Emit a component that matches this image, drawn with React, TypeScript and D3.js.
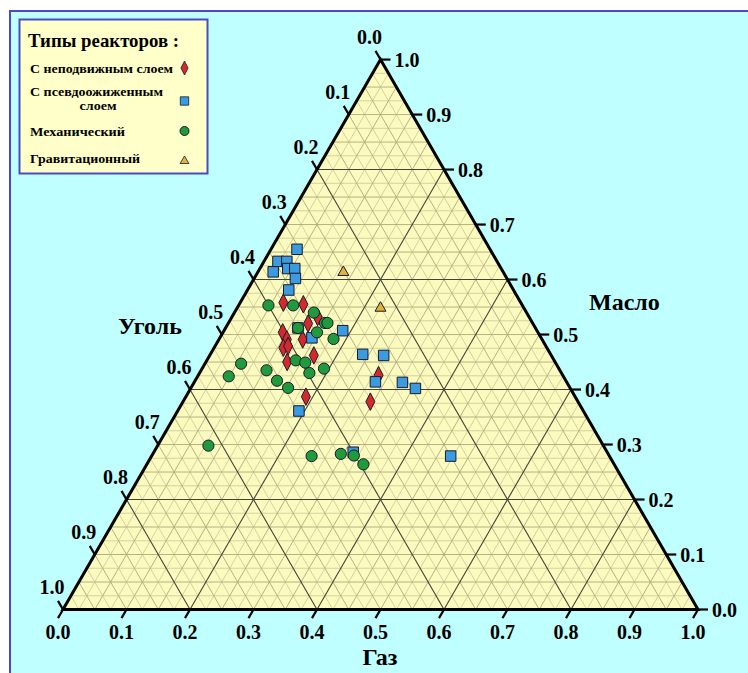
import React from "react";
import * as d3 from "d3";

// Composition rows: [Газ, Масло, Уголь] (fractions of product yield)
type Row = [number, number, number];

const fixedBed: Row[] = [
  [0.068, 0.558, 0.374],
  [0.101, 0.555, 0.344],
  [0.135, 0.532, 0.333],
  [0.126, 0.520, 0.354],
  [0.094, 0.504, 0.402],
  [0.107, 0.491, 0.402],
  [0.132, 0.491, 0.377],
  [0.109, 0.476, 0.415],
  [0.115, 0.479, 0.406],
  [0.164, 0.462, 0.374],
  [0.128, 0.450, 0.422],
  [0.284, 0.426, 0.290],
  [0.189, 0.387, 0.424],
  [0.295, 0.378, 0.327],
];

const fluidizedBed: Row[] = [
  [0.041, 0.655, 0.304],
  [0.022, 0.633, 0.345],
  [0.036, 0.633, 0.331],
  [0.024, 0.614, 0.362],
  [0.044, 0.620, 0.336],
  [0.055, 0.620, 0.325],
  [0.065, 0.602, 0.333],
  [0.065, 0.581, 0.354],
  [0.114, 0.512, 0.374],
  [0.187, 0.507, 0.306],
  [0.145, 0.494, 0.361],
  [0.240, 0.464, 0.296],
  [0.274, 0.462, 0.264],
  [0.285, 0.414, 0.301],
  [0.328, 0.413, 0.259],
  [0.354, 0.402, 0.244],
  [0.191, 0.361, 0.448],
  [0.314, 0.286, 0.400],
  [0.471, 0.279, 0.250],
];

const mechanical: Row[] = [
  [0.047, 0.553, 0.400],
  [0.086, 0.553, 0.361],
  [0.125, 0.540, 0.335],
  [0.152, 0.521, 0.327],
  [0.156, 0.521, 0.323],
  [0.114, 0.512, 0.374],
  [0.148, 0.504, 0.348],
  [0.180, 0.492, 0.328],
  [0.057, 0.447, 0.496],
  [0.140, 0.453, 0.407],
  [0.157, 0.449, 0.394],
  [0.192, 0.438, 0.370],
  [0.049, 0.424, 0.527],
  [0.103, 0.435, 0.462],
  [0.173, 0.430, 0.397],
  [0.129, 0.416, 0.455],
  [0.153, 0.403, 0.444],
  [0.080, 0.298, 0.622],
  [0.252, 0.279, 0.469],
  [0.296, 0.283, 0.421],
  [0.318, 0.280, 0.402],
  [0.341, 0.264, 0.395],
];

const gravity: Row[] = [
  [0.134, 0.615, 0.251],
  [0.225, 0.550, 0.225],
];

const axisTicks = d3.range(0, 11).map((i) => i / 10);
const tickLabels = ["0.0", "0.1", "0.2", "0.3", "0.4", "0.5", "0.6", "0.7", "0.8", "0.9", "1.0"];
const axisTitles = { gas: "Газ", oil: "Масло", coal: "Уголь" };

const legendTitle = "Типы реакторов :";
const legendLabels: string[][] = [
  ["С неподвижным слоем"],
  ["С псевдоожиженным", "слоем"],
  ["Механический"],
  ["Гравитационный"],
];

// ---- layout ----
const WIDTH = 748;
const HEIGHT = 673;
const X0 = 63;
const SIDE = 635;
const Y0 = 609.5;
const TRI_H = (SIDE * Math.sqrt(3)) / 2;

const xScale = d3.scaleLinear().domain([0, 1]).range([X0, X0 + SIDE]);
const yScale = d3.scaleLinear().domain([0, 1]).range([Y0, Y0 - TRI_H]);

// gas runs along the base, oil is the height
const project = (gas: number, oil: number): [number, number] => [
  xScale(gas + oil / 2),
  yScale(oil),
];

const FONT = "'Liberation Serif', 'Times New Roman', serif";

const COLORS = {
  frame: "#4a4ac8",
  background: "#bfffff",
  plot: "#fbfabf",
  legend: "#ffffca",
  gridFine: "#d3cd98",
  gridMid: "#b0a97a",
  gridMajor: "#45443a",
  diamond: "#d42a2f",
  square: "#3a9be0",
  circle: "#1f9a3c",
  triangle: "#e2b23a",
  outline: "#1a1a2a",
};

const diamondPath = (w: number, h: number) => {
  const p = d3.path();
  p.moveTo(0, -h / 2);
  p.lineTo(w / 2, 0);
  p.lineTo(0, h / 2);
  p.lineTo(-w / 2, 0);
  p.closePath();
  return p.toString();
};
const squarePath = d3.symbol(d3.symbolSquare, 110)() as string;
const trianglePath = d3.symbol(d3.symbolTriangle, 52)() as string;

type MarkerKind = "diamond" | "square" | "circle" | "triangle";

const Marker = ({ kind, x, y, scale = 1 }: { kind: MarkerKind; x: number; y: number; scale?: number }) => {
  const common = { stroke: COLORS.outline, strokeWidth: 1 };
  const t = `translate(${x},${y}) scale(${scale})`;
  if (kind === "diamond")
    return <path d={diamondPath(9, 17.5)} transform={t} fill={COLORS.diamond} {...common} />;
  if (kind === "square")
    return <path d={squarePath} transform={t} fill={COLORS.square} {...common} />;
  if (kind === "circle")
    return <circle cx={x} cy={y} r={5.6 * scale} fill={COLORS.circle} {...common} />;
  return <path d={trianglePath} transform={`translate(${x},${y + 1}) scale(${scale})`} fill={COLORS.triangle} {...common} />;
};

const series: { rows: Row[]; kind: MarkerKind }[] = [
  { rows: fixedBed, kind: "diamond" },
  { rows: fluidizedBed, kind: "square" },
  { rows: mechanical, kind: "circle" },
  { rows: gravity, kind: "triangle" },
];
const legendKinds: MarkerKind[] = ["diamond", "square", "circle", "triangle"];

type Seg = { key: string; a: [number, number]; b: [number, number]; level: number };

function gridSegments(): Seg[] {
  const segs: Seg[] = [];
  for (let i = 1; i < 40; i++) {
    const v = i / 40;
    const level = i % 8 === 0 ? 2 : i % 2 === 0 ? 1 : 0;
    segs.push({ key: `g${i}`, a: project(v, 0), b: project(v, 1 - v), level }); // constant gas
    segs.push({ key: `o${i}`, a: project(0, v), b: project(1 - v, v), level }); // constant oil
    segs.push({ key: `c${i}`, a: project(1 - v, 0), b: project(0, 1 - v), level }); // constant coal
  }
  return segs.sort((s, t) => s.level - t.level);
}

const gridStroke = [COLORS.gridFine, COLORS.gridMid, COLORS.gridMajor];
const gridWidth = [0.9, 0.9, 1.1];

const TICK = 10;
const DIRS = {
  gas: [-0.5, Math.sqrt(3) / 2],
  oil: [1, 0],
  coal: [-0.5, -Math.sqrt(3) / 2],
};

export default function App() {
  const triangle = [project(0, 0), project(1, 0), project(0, 1)];
  const triPath = d3.line()(triangle) + "Z";

  const ticks: JSX.Element[] = [];
  const labels: JSX.Element[] = [];
  axisTicks.forEach((v, i) => {
    // Газ along the base
    const g = project(v, 0);
    const ge = [g[0] + DIRS.gas[0] * TICK, g[1] + DIRS.gas[1] * TICK];
    ticks.push(<line key={`tg${i}`} x1={g[0]} y1={g[1]} x2={ge[0]} y2={ge[1]} />);
    labels.push(
      <text key={`lg${i}`} x={ge[0]} y={ge[1] + 21} textAnchor="middle">
        {tickLabels[i]}
      </text>
    );
    // Масло on the right side
    const o = project(1 - v, v);
    const oe = [o[0] + DIRS.oil[0] * TICK, o[1]];
    ticks.push(<line key={`to${i}`} x1={o[0]} y1={o[1]} x2={oe[0]} y2={oe[1]} />);
    labels.push(
      <text key={`lo${i}`} x={oe[0] + 4} y={oe[1] + 7} textAnchor="start">
        {tickLabels[i]}
      </text>
    );
    // Уголь on the left side
    const c = project(0, 1 - v);
    const ce = [c[0] + DIRS.coal[0] * TICK, c[1] + DIRS.coal[1] * TICK];
    ticks.push(<line key={`tc${i}`} x1={c[0]} y1={c[1]} x2={ce[0]} y2={ce[1]} />);
    labels.push(
      <text key={`lc${i}`} x={ce[0] - 6} y={ce[1] - 7} textAnchor="middle">
        {tickLabels[i]}
      </text>
    );
  });

  const legendRowsY = [68, 101, 131, 160];
  const legendTextY = [73, 95.5, 136, 163];
  const legendWidths = [[143], [133, 37], [95], [110]];

  return (
    <div style={{ position: "absolute", left: 0, top: 0, width: WIDTH, height: HEIGHT }}>
      <svg width={WIDTH} height={HEIGHT} style={{ display: "block" }}>
        <rect x={0} y={0} width={WIDTH} height={HEIGHT} fill="#ffffff" />
        <rect
          x={10}
          y={11}
          width={WIDTH + 20}
          height={HEIGHT + 20}
          fill={COLORS.background}
          stroke={COLORS.frame}
          strokeWidth={2}
        />

        <path d={triPath} fill={COLORS.plot} />
        <g>
          {gridSegments().map((s) => (
            <line
              key={s.key}
              x1={s.a[0]}
              y1={s.a[1]}
              x2={s.b[0]}
              y2={s.b[1]}
              stroke={gridStroke[s.level]}
              strokeWidth={gridWidth[s.level]}
            />
          ))}
        </g>

        {series.map((s) => (
          <g key={s.kind}>
            {s.rows.map(([gas, oil], j) => {
              const [x, y] = project(gas, oil);
              return <Marker key={j} kind={s.kind} x={x} y={y} />;
            })}
          </g>
        ))}

        <path d={triPath} fill="none" stroke="#000" strokeWidth={3} strokeLinejoin="miter" />
        <g stroke="#000" strokeWidth={2.2}>{ticks}</g>
        <g fontFamily={FONT} fontWeight="bold" fontSize={20} fill="#000">
          {labels}
        </g>

        <g fontFamily={FONT} fontWeight="bold" fontSize={24} fill="#000">
          <text x={380} y={665} textAnchor="middle">{axisTitles.gas}</text>
          <text x={589} y={310} textAnchor="start">{axisTitles.oil}</text>
          <text x={150} y={334} textAnchor="middle">{axisTitles.coal}</text>
        </g>

        {/* legend */}
        <rect x={19.5} y={19.5} width={188} height={154} fill={COLORS.legend} stroke={COLORS.frame} strokeWidth={2} />
        <g fontFamily={FONT} fontWeight="bold" fill="#000">
          <text x={28} y={47} fontSize={19} textLength={151} lengthAdjust="spacingAndGlyphs">
            {legendTitle}
          </text>
          {legendLabels.map((lines, i) =>
            lines.length === 1 ? (
              <text
                key={i}
                x={30}
                y={legendTextY[i]}
                fontSize={13}
                textLength={legendWidths[i][0]}
                lengthAdjust="spacingAndGlyphs"
              >
                {lines[0]}
              </text>
            ) : (
              <g key={i} fontSize={12}>
                <text x={30} y={legendTextY[i]} textLength={legendWidths[i][0]} lengthAdjust="spacingAndGlyphs">
                  {lines[0]}
                </text>
                <text
                  x={98}
                  y={legendTextY[i] + 14}
                  textAnchor="middle"
                  textLength={legendWidths[i][1]}
                  lengthAdjust="spacingAndGlyphs"
                >
                  {lines[1]}
                </text>
              </g>
            )
          )}
        </g>
        {legendKinds.map((k, i) => (
          <Marker key={k} kind={k} x={184.5} y={legendRowsY[i]} scale={0.8} />
        ))}
      </svg>
    </div>
  );
}
